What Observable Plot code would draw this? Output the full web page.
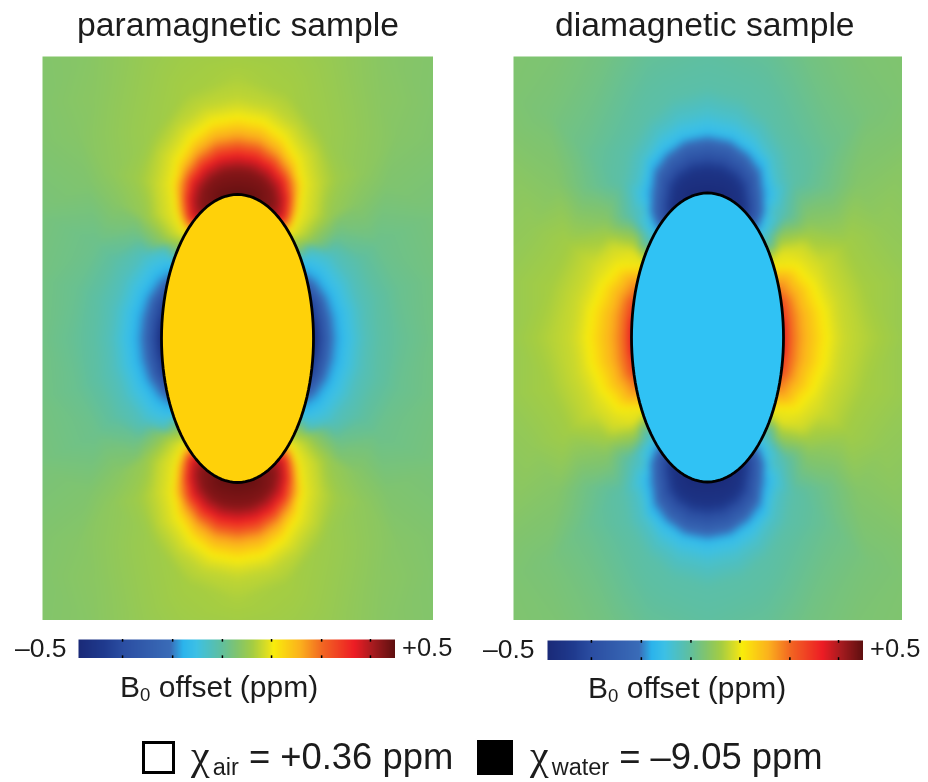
<!DOCTYPE html>
<html><head><meta charset="utf-8">
<script src="https://cdn.jsdelivr.net/npm/d3@7"></script>
<script src="https://cdn.jsdelivr.net/npm/@observablehq/plot@0.6"></script>
<style>
html,body{margin:0;padding:0;background:#fff;}
#page{position:relative;width:928px;height:782px;overflow:hidden;font-family:"Liberation Sans",Arial,sans-serif;color:#1c1c1c;filter:blur(.45px);}
.abs{position:absolute;white-space:nowrap;line-height:1;}
.host svg{display:block;}
.host{position:absolute;}
.sub0{font-size:.62em;position:relative;top:.2em;line-height:0;}
.chi{font-family:"Liberation Serif",serif;font-size:42px;margin-right:3px;line-height:0;}
.subx{font-size:23.5px;position:relative;top:6px;line-height:0;}
</style></head><body><div id="page"></div>
<script>
// B0 offset colour scale (ppm)
const colorStops = [-0.5,-0.42,-0.36,-0.21,-0.17,-0.13,-0.05,0,0.05,0.10,0.115,0.2,0.27,0.37,0.43,0.5];
const colorRamp = ["#1a2a78","#1f3a8e","#2b4ea2","#3a6cb8","#2bb4ec","#3cc0e6","#5fbfa0","#80c46e","#a5cd42","#e4e11e","#f9ed0b","#fbb01d","#f26522","#ed1c24","#a51b1f","#5c0f0f"];
const barTicks = [-0.361,-0.203,-0.046,0.109,0.267,0.421];

// Field samples of one quadrant: [x, y, ppm], x,y in px-sized field units from the sample centre
const paraField = [
 // ellipse edge
 [0,144,.49],[15,141,.49],[28,134,.47],[36,127,.45],[42,120,.38],[46,115,.30],[48,111,.22],[52,105,.11],[56,97,.05],[59,90,.015],[61,86,0],[63,80,-.11],[65,75,-.14],[68,64,-.19],[72,46,-.33],[74,33,-.4],[75.5,10,-.47],[76,0,-.48],
 // upper lobe
 [0,168,.46],[14,166,.46],[26,159,.46],[34,149,.46],[37,136,.46],
 [0,181,.38],[18,178,.38],[33,169,.38],[44,155,.38],[48,140,.38],[46,122,.38],
 [0,201,.22],[22,197,.22],[40,184,.22],[52,167,.22],[57,145,.22],[52,116,.22],
 [0,223,.11],[26,218,.11],[46,203,.11],[60,180,.11],[65,155,.11],[62,130,.11],[56,112,.11],
 [0,240,.072],[35,232,.072],[60,212,.072],[78,185,.07],[84,155,.07],[80,125,.07],[68,103,.06],
 [0,262,.055],[50,245,.05],[85,205,.04],[100,160,.04],[92,120,.03],[72,96,.02],
 [126,165,.02],[120,135,.01],[160,205,.008],[140,240,.015],
 // side lobe
 [84,0,-.35],[82,18,-.35],[78,35,-.35],
 [95,0,-.2],[93,20,-.2],[87,40,-.2],[77,55,-.2],
 [108,0,-.14],[105,25,-.14],[97,47,-.14],[83,68,-.14],[70,78,-.13],
 [127,0,-.08],[124,30,-.08],[114,60,-.08],[95,85,-.08],[72,92,-.07],
 [143,0,-.055],[140,40,-.055],[125,80,-.05],
 [165,0,-.038],[160,50,-.035],[140,95,-.03],[100,102,-.03],
 // zero line and frame
 [100,118,-.003],[150,155,0],[200,195,0],
 [200,0,-.02],[200,60,-.018],[200,125,-.012],[200,235,.002],
 [0,285,.046],[60,285,.04],[100,285,.028],[150,285,.01],[200,285,.003]
];
const diaField = [
 // ellipse edge
 [0,145,-.49],[15,142,-.49],[28,135,-.47],[36,127,-.45],[42,120,-.37],[46,115,-.28],[48,111,-.22],[52,105,-.14],[56,97,-.09],[59,90,-.03],[61,86,0],[63,80,.06],[65,75,.1],[68,64,.17],[72,46,.26],[74,33,.32],[75.5,10,.38],[76,0,.38],
 // upper lobe
 [0,167,-.45],[14,165,-.45],[26,158,-.45],[33,148,-.45],[36,130,-.45],
 [0,199,-.2],[22,195,-.2],[40,182,-.2],[52,165,-.2],[55,142,-.2],[50,112,-.2],
 [0,206,-.145],[26,200,-.145],[46,186,-.145],[58,165,-.145],[62,142,-.145],[55,112,-.145],
 [0,225,-.1],[28,218,-.1],[48,204,-.1],[63,180,-.1],[68,155,-.1],[64,128,-.1],[58,102,-.1],
 [0,250,-.06],[35,240,-.06],[60,218,-.06],[80,185,-.06],[85,155,-.06],[78,122,-.06],[65,95,-.05],
 [120,150,-.025],[125,190,-.03],[160,225,-.01],
 // side lobe
 [82,0,.28],[81,18,.28],[78,35,.28],
 [94,0,.21],[92,22,.21],[86,42,.21],[76,57,.21],
 [121,0,.11],[118,25,.11],[107,52,.11],[90,72,.11],[72,84,.1],
 [136,0,.08],[130,40,.08],[115,75,.08],[95,92,.08],[72,95,.05],
 [162,0,.058],[157,50,.05],[140,95,.045],[100,104,.04],
 // zero line and frame
 [100,120,.005],[150,155,.005],[200,200,.003],
 [200,0,.03],[200,60,.03],[175,110,.025],[200,240,-.002],
 [0,285,-.05],[60,285,-.04],[100,285,-.02],[150,285,-.005],[200,285,0]
];
const ellipseAxes = {para:[76,144], dia:[76,144.5]};
const sampleFill = {para:"#ffd109", dia:"#30c2f4"};
const outlineAngles = d3.range(0,361,3);

const colorScale = {type:"linear",domain:colorStops,range:colorRamp,clamp:true};
const mirror = rows => rows.flatMap(([x,y,v]) => {
  const xs = x ? [x,-x] : [x], ys = y ? [y,-y] : [y];
  return xs.flatMap(a => ys.map(b => ({x:a,y:b,v})));
});
const page = document.getElementById("page");
function place(node,left,top){const d=document.createElement("div");d.className="host";d.style.left=left+"px";d.style.top=top+"px";d.appendChild(node);page.appendChild(d);}
function label(html,left,top,size){const d=document.createElement("div");d.className="abs";d.innerHTML=html;d.style.left=left+"px";d.style.top=top+"px";d.style.fontSize=size+"px";page.appendChild(d);return d;}

function panel(field,axes,fill,xDomain,yDomain,w,h){
  const [rx,ry]=axes;
  const outline=outlineAngles.map(a=>({x:rx*Math.sin(a*Math.PI/180),y:ry*Math.cos(a*Math.PI/180)}));
  return Plot.plot({width:w,height:h,margin:0,
    x:{domain:xDomain,axis:null},y:{domain:yDomain,axis:null},color:colorScale,
    marks:[
      Plot.raster(mirror(field),{x:"x",y:"y",fill:"v",interpolate:"barycentric",pixelSize:1,blur:3}),
      Plot.line(outline,{x:"x",y:"y",fill:fill,stroke:"#000",strokeWidth:2.8})
    ]});
}
function colorBar(w,h){
  return Plot.plot({width:w,height:h,margin:0,
    x:{domain:[-0.5,0.5],axis:null},y:{domain:[0,1],axis:null},color:colorScale,
    marks:[
      Plot.raster({x1:-0.5,x2:0.5,y1:0,y2:1,fill:(x,y)=>x,width:w,height:h}),
      Plot.ruleX(barTicks,{y1:0,y2:0.14,stroke:"#000",strokeWidth:1.5}),
      Plot.ruleX(barTicks,{y1:0.86,y2:1,stroke:"#000",strokeWidth:1.5})
    ]});
}
place(panel(paraField,ellipseAxes.para,sampleFill.para,[-195,196],[-282,282],391,564),42,56);
place(panel(diaField,ellipseAxes.dia,sampleFill.dia,[-194,195],[-283,281],389,564),513,56);
place(colorBar(317,19),78,639);
place(colorBar(316,20),547,640);

label("paramagnetic sample",77,7.5,33.7);
label("diamagnetic sample",555,7.5,33.7);
label("–0.5",15,635,26.5);label("+0.5",402,635,25.5);
label("–0.5",483,636,26.5);label("+0.5",870,636,25.5);
label('B<span class="sub0">0</span> offset (ppm)',120,672,30);
label('B<span class="sub0">0</span> offset (ppm)',588,673,30);

// legend swatches
const swatch=(bg)=>{const d=document.createElement("div");d.style.cssText="position:absolute;box-sizing:border-box;border:3.5px solid #000;background:"+bg;return d;};
const a=swatch("#fff");Object.assign(a.style,{left:"142px",top:"741px",width:"33px",height:"33px"});page.appendChild(a);
const b=swatch("#000");Object.assign(b.style,{left:"477px",top:"740px",width:"36px",height:"35px"});page.appendChild(b);
label('<span class="chi">χ</span><span class="subx">air</span> = +0.36 ppm',191,739,36.4);
label('<span class="chi">χ</span><span class="subx">water</span> = –9.05 ppm',530,739,36.4);
</script></body></html>
